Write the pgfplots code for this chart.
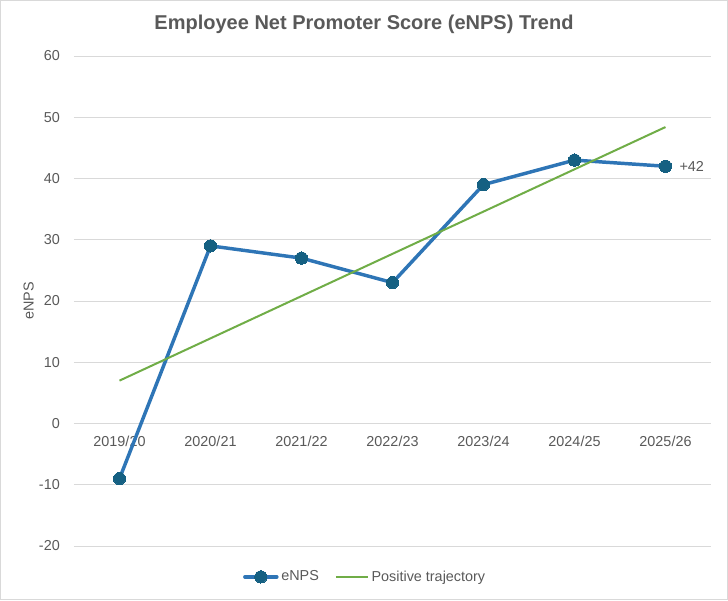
\documentclass[border=0pt]{standalone}
\usepackage{pgfplots}
\pgfplotsset{compat=1.18}
\usepackage{fontspec}
\setmainfont{Liberation Sans}
\definecolor{enpsblue}{HTML}{2E75B6}
\definecolor{markteal}{HTML}{156082}
\definecolor{trendgreen}{HTML}{70AD47}
\definecolor{txtgray}{HTML}{595959}
\definecolor{gridgray}{HTML}{D9D9D9}
\begin{document}
\begin{tikzpicture}
\draw[gridgray, line width=0.75pt] (0.375pt,0.375pt) rectangle (545.625pt,449.625pt);
\node[font=\bfseries\fontsize{15}{18}\selectfont, text=txtgray] at (273pt,432pt) {Employee Net Promoter Score (eNPS) Trend};
\begin{axis}[
  at={(55.5pt,40.5pt)}, anchor=south west,
  width=477.75pt, height=367.5pt, scale only axis,
  xmin=-0.5, xmax=6.5, ymin=-20, ymax=60,
  ytick={-20,-10,...,60},
  xtick={0,...,6},
  xticklabels={2019/20,2020/21,2021/22,2022/23,2023/24,2024/25,2025/26},
  /pgf/number format/assume math mode=true,
  axis x line=middle, axis y line=left,
  axis line style={draw=none,-},
  tick style={draw=none},
  ymajorgrids, grid style={gridgray, line width=0.75pt},
  ticklabel style={font=\fontsize{10.8}{13}\selectfont, text=txtgray},
  xticklabel style={yshift=-3.5pt},
  yticklabel style={xshift=-5pt},
  ylabel={eNPS},
  ylabel style={at={(axis description cs:-0.071,0.5)}, anchor=center, font=\fontsize{10.8}{13}\selectfont, text=txtgray},
  legend style={at={(axis description cs:0.4576,-0.063)}, anchor=center, draw=none, fill=none, legend columns=2,
    font=\fontsize{10.8}{13}\selectfont, text=txtgray, inner sep=0pt,
    /tikz/every odd column/.append style={column sep=0pt},
    /tikz/every even column/.append style={column sep=10pt}},
  legend image code/.code={\draw[mark repeat=2,mark phase=2] plot coordinates {(0pt,0pt) (12pt,0pt) (24pt,0pt)};},
  clip=false,
]
\addplot[enpsblue, line width=2.6pt, line join=round, line cap=round, mark=*, mark size=4.6pt, mark options={solid, fill=markteal, draw=markteal, line width=0pt}]
  coordinates {(0,-9) (1,29) (2,27) (3,23) (4,39) (5,43) (6,42)};
\addlegendentry{eNPS}
\addplot[trendgreen, line width=1.5pt, no marks] coordinates {(0,7.0) (6,48.4)};
\addlegendentry{Positive trajectory}
\node[anchor=west, font=\fontsize{10.8}{13}\selectfont, text=txtgray, xshift=7pt] at (axis cs:6,42) {+42};
\end{axis}
\end{tikzpicture}
\end{document}
